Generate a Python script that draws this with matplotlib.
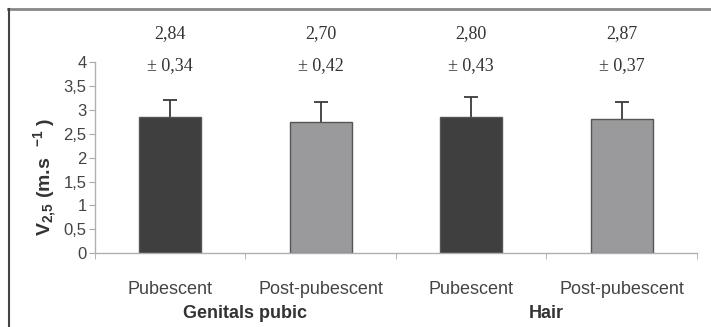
import numpy as np
import matplotlib.pyplot as plt
from matplotlib.lines import Line2D

plt.rcParams["mathtext.fontset"] = "custom"
plt.rcParams["mathtext.rm"] = "Liberation Sans"
plt.rcParams["mathtext.bf"] = "Liberation Sans:bold"

# data
categories = ["Pubescent", "Post-pubescent", "Pubescent", "Post-pubescent"]
groups = ["Genitals pubic", "Hair"]
heights = [2.86, 2.74, 2.84, 2.80]
errors = [0.34, 0.42, 0.43, 0.37]
mean_labels = ["2,84", "2,70", "2,80", "2,87"]
sd_labels = ["± 0,34", "± 0,42", "± 0,43", "± 0,37"]
yticks = [0, 0.5, 1, 1.5, 2, 2.5, 3, 3.5, 4]
ytick_labels = ["0", "0,5", "1", "1,5", "2", "2,5", "3", "3,5", "4"]
bar_colors = ["#3f3f3f", "#9a9a9c", "#3f3f3f", "#9a9a9c"]

fig = plt.figure(figsize=(7.11, 3.27), dpi=100)
ax = fig.add_axes([0.1336, 0.2254, 0.8467, 0.585])

x = np.arange(1, len(categories) + 1)
ax.bar(x, heights, width=0.41, color=bar_colors, edgecolor="#555555", linewidth=1, zorder=2)
# error bars sit behind the bars so only the upper half shows
ax.errorbar(x, heights, yerr=errors, fmt="none",
            ecolor="#3a3a3a", elinewidth=1.3, capsize=5, capthick=1.3, zorder=1)

ax.set_xlim(0.5, 4.5)
ax.set_ylim(0, 4)
ax.set_yticks(yticks)
ax.set_yticklabels(ytick_labels, family="Liberation Sans", fontsize=12, color="#444444")
ax.set_xticks(x)
ax.set_xticklabels(categories, family="Liberation Sans", fontsize=13, color="#444444")
ax.tick_params(axis="x", length=0, pad=20)
ax.set_xticks(np.arange(0.5, 5.0, 1.0), minor=True)
ax.tick_params(axis="x", which="minor", length=4, color="#aaaaaa")
ax.tick_params(axis="y", length=4, color="#aaaaaa", pad=2)

for s in ["top", "right"]:
    ax.spines[s].set_visible(False)
for s in ["left", "bottom"]:
    ax.spines[s].set_color("#b0b0b0")
    ax.spines[s].set_linewidth(1)

for xi, m, sd in zip(x, mean_labels, sd_labels):
    ax.text(xi, 4.59, m, ha="center", va="center", family="Liberation Serif",
            fontsize=13, color="#333333", clip_on=False)
    ax.text(xi, 3.92, sd, ha="center", va="center", family="Liberation Serif",
            fontsize=13, color="#333333", clip_on=False)

# group labels under the category labels
for gx, g in zip([1.5, 3.5], groups):
    ax.text(gx, -1.25, g, ha="center", va="center", family="Liberation Sans",
            fontsize=13, fontweight="bold", color="#333333", clip_on=False)

fig.text(0.064, 0.46, r"$\mathbf{V_{2{,}5}}$" + r" (m.s  $^{\mathbf{-1}}$ )", rotation=90,
         ha="center", va="center", family="Liberation Sans", fontsize=14,
         fontweight="bold", color="#333333")

# picture frame: top and left lines
fig.add_artist(Line2D([0.0113, 1.0], [0.9725, 0.9725], transform=fig.transFigure,
                      color="#888888", linewidth=2))
fig.add_artist(Line2D([0.0127, 0.0127], [0.0, 0.9725], transform=fig.transFigure,
                      color="#444444", linewidth=1.5))

fig.savefig("out.png", dpi=100)
